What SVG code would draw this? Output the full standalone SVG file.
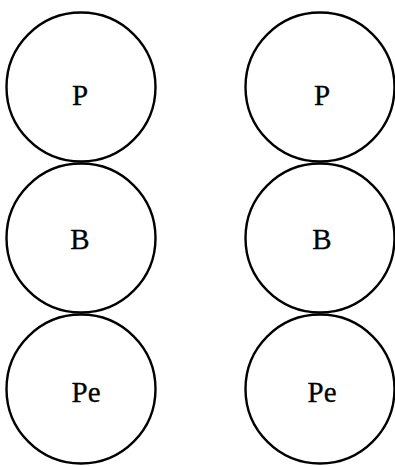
<svg xmlns="http://www.w3.org/2000/svg" width="395" height="466" viewBox="0 0 395 466">
<style>
circle{fill:none;stroke:#000;stroke-width:2.4}
text{font-family:"Liberation Serif","Times New Roman",serif;font-size:29px;text-anchor:middle;fill:#000;stroke:#000;stroke-width:0.3}
</style>
<rect width="395" height="466" fill="#fff"/>
<g id="left-P"><circle cx="81" cy="87" r="74.5"/><text x="80" y="105">P</text></g>
<g id="left-B"><circle cx="81" cy="238" r="74.5"/><text x="80" y="249">B</text></g>
<g id="left-Pe"><circle cx="81" cy="389" r="74.5"/><text x="86" y="402">Pe</text></g>
<g id="right-P"><circle cx="320" cy="87" r="74.5"/><text x="322" y="105">P</text></g>
<g id="right-B"><circle cx="320" cy="238" r="74.5"/><text x="322" y="249">B</text></g>
<g id="right-Pe"><circle cx="320" cy="389" r="74.5"/><text x="322" y="402">Pe</text></g>
<g id="connectors"></g>
</svg>
